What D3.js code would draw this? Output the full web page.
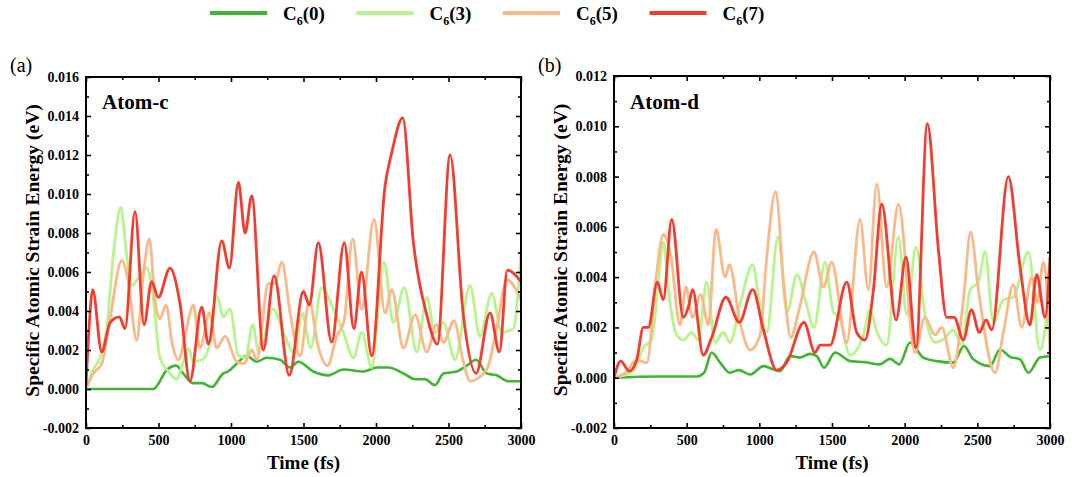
<!DOCTYPE html>
<html>
<head>
<meta charset="utf-8">
<script src="https://cdnjs.cloudflare.com/ajax/libs/d3/7.8.5/d3.min.js"></script>
<style>
  body { margin: 0; background: #fff; }
  text { font-family: "Liberation Serif", "Times New Roman", serif; }
</style>
</head>
<body>
<div id="chart"></div>
<script>
// series names and colours
var seriesNames = ["0", "3", "5", "7"];
var seriesColors = ["#3fb62f", "#b6f48c", "#fbb888", "#f73a2e"];

// time ticks (fs)
var timeMajor = [0, 500, 1000, 1500, 2000, 2500, 3000];
var timeMinor = [250, 750, 1250, 1750, 2250, 2750];

// Atom-c panel, [time fs, energy eV]
var atomC_0 = [[0,0],[464,0],[560,0.001],[621,0.0012],[670,0.0008],[740,0.0003],[800,0.0003],[867,0.0001],[947,0.0008],[980,0.0009],[1039,0.0013],[1108,0.0017],[1177,0.0014],[1246,0.0016],[1338,0.0015],[1407,0.0011],[1464,0.0014],[1568,0.0009],[1671,0.0007],[1775,0.001],[1913,0.0009],[2005,0.0011],[2085,0.0011],[2189,0.0008],[2269,0.0005],[2338,0.0005],[2407,0.0002],[2465,0.0008],[2557,0.0009],[2626,0.0012],[2690,0.0015],[2763,0.0008],[2832,0.0007],[2913,0.0004],[3000,0.0004]];
var atomC_3 = [[0,0],[50,0.001],[96,0.0016],[143,0.0031],[189,0.0069],[239,0.0093],[280,0.0069],[315,0.0053],[361,0.0057],[419,0.0062],[453,0.0053],[510,0.0016],[568,0.0009],[625,0.0005],[671,0.0014],[706,0.0021],[740,0.0014],[800,0.0015],[850,0.0022],[901,0.0048],[947,0.0037],[993,0.0041],[1051,0.0017],[1100,0.0016],[1150,0.0033],[1190,0.0019],[1292,0.0041],[1361,0.0029],[1441,0.0018],[1490,0.0039],[1550,0.0021],[1625,0.0052],[1706,0.0041],[1775,0.0029],[1844,0.0016],[1902,0.0029],[1970,0.0011],[2055,0.0065],[2120,0.0034],[2194,0.0052],[2281,0.0019],[2350,0.0047],[2407,0.0029],[2465,0.0034],[2545,0.0015],[2648,0.0053],[2717,0.0027],[2798,0.0049],[2867,0.0029],[2947,0.0031],[3000,0.0071]];
var atomC_5 = [[0,0],[50,0.0008],[108,0.0013],[166,0.0036],[246,0.0066],[292,0.0055],[349,0.0025],[395,0.0058],[437,0.0077],[475,0.0046],[510,0.0036],[552,0.0043],[595,0.0023],[637,0.0015],[690,0.003],[740,0.0043],[786,0.0021],[851,0.0039],[901,0.0021],[959,0.0027],[1039,0.0014],[1090,0.0013],[1143,0.002],[1177,0.0015],[1258,0.0054],[1300,0.0054],[1350,0.0065],[1410,0.0038],[1476,0.0017],[1540,0.0045],[1600,0.0022],[1665,0.0012],[1729,0.0027],[1780,0.0035],[1839,0.0077],[1901,0.0041],[1986,0.0087],[2062,0.0039],[2108,0.0051],[2189,0.0021],[2269,0.0038],[2350,0.0019],[2418,0.0033],[2465,0.0024],[2538,0.0035],[2602,0.0014],[2648,0.0004],[2763,0.001],[2832,0.0031],[2901,0.0056],[3000,0.0046]];
var atomC_7 = [[0,0.0002],[20,0.003],[46,0.0051],[108,0.0019],[166,0.0034],[230,0.0037],[269,0.0031],[338,0.0091],[400,0.0033],[453,0.0055],[499,0.0047],[579,0.0062],[648,0.0044],[717,0.0004],[798,0.0042],[844,0.0023],[936,0.0076],[989,0.0062],[1051,0.0106],[1097,0.008],[1143,0.0099],[1223,0.002],[1297,0.0058],[1402,0.0007],[1499,0.005],[1540,0.0043],[1602,0.0075],[1694,0.0024],[1781,0.0075],[1847,0.0031],[1900,0.006],[1970,0.0017],[2062,0.0104],[2108,0.0121],[2184,0.0139],[2258,0.0075],[2350,0.0038],[2423,0.0023],[2511,0.012],[2602,0.0038],[2690,0.0008],[2786,0.0039],[2851,0.0019],[2906,0.0061],[3000,0.0055]];

// Atom-d panel, [time fs, energy eV]
var atomD_0 = [[0,0],[300,0.00005],[571,0.00005],[620,0.0002],[672,0.001],[730,0.0006],[798,0.0002],[858,0.0003],[938,0.00013],[1028,0.00046],[1097,0.00033],[1142,0.00026],[1211,0.00086],[1280,0.0008],[1349,0.00095],[1395,0.00086],[1445,0.0004],[1521,0.001],[1624,0.00066],[1727,0.00062],[1830,0.00053],[1899,0.00075],[1963,0.00053],[2037,0.0014],[2128,0.0008],[2220,0.00066],[2335,0.0006],[2408,0.00126],[2472,0.00073],[2587,0.00046],[2656,0.00112],[2725,0.00083],[2794,0.00073],[2851,0.0002],[2931,0.0008],[3000,0.00086]];
var atomD_3 = [[0,0],[70,0.0001],[138,0.0003],[202,0.0012],[259,0.0015],[300,0.0035],[339,0.0054],[380,0.0032],[431,0.0017],[477,0.0015],[534,0.0018],[580,0.0015],[637,0.0038],[695,0.0014],[752,0.0018],[798,0.0014],[870,0.003],[954,0.0045],[1000,0.003],[1051,0.0018],[1128,0.0056],[1190,0.0026],[1259,0.0041],[1320,0.003],[1376,0.002],[1452,0.0046],[1510,0.0026],[1550,0.0024],[1624,0.0009],[1716,0.0017],[1762,0.0027],[1810,0.0018],[1876,0.0013],[1957,0.0056],[2014,0.0025],[2078,0.0052],[2140,0.0025],[2209,0.0014],[2260,0.0015],[2335,0.0019],[2393,0.0013],[2450,0.0035],[2507,0.0038],[2553,0.005],[2610,0.0022],[2679,0.0031],[2748,0.0032],[2851,0.005],[2931,0.0011],[3000,0.0038]];
var atomD_5 = [[0,0],[80,0.0002],[156,0.0007],[225,0.0006],[290,0.004],[339,0.0057],[390,0.0049],[454,0.0021],[495,0.0036],[540,0.0024],[596,0.0033],[649,0.0021],[702,0.0059],[764,0.004],[794,0.0045],[867,0.0022],[936,0.0011],[1005,0.0017],[1051,0.0048],[1112,0.0074],[1170,0.0036],[1216,0.0016],[1273,0.0027],[1376,0.005],[1441,0.0036],[1498,0.0046],[1601,0.0014],[1693,0.0063],[1750,0.0035],[1808,0.0077],[1876,0.0036],[1957,0.0069],[2071,0.001],[2140,0.0024],[2209,0.0017],[2255,0.002],[2335,0.0004],[2404,0.0031],[2454,0.0058],[2507,0.0035],[2622,0.0002],[2679,0.0018],[2748,0.0037],[2805,0.002],[2874,0.004],[2913,0.003],[2954,0.0046],[3000,0.001]];
var atomD_7 = [[0,0],[46,0.00066],[105,0.00026],[156,0.0007],[202,0.002],[236,0.002],[298,0.0038],[339,0.0031],[397,0.0063],[477,0.0024],[511,0.0028],[541,0.0035],[614,0.0009],[672,0.0016],[770,0.0032],[862,0.0022],[954,0.0035],[1028,0.0019],[1119,0.0003],[1188,0.0006],[1307,0.0022],[1383,0.001],[1418,0.0013],[1487,0.0013],[1601,0.0038],[1670,0.0018],[1727,0.0015],[1785,0.0035],[1842,0.0069],[1941,0.0023],[2009,0.0048],[2078,0.0012],[2156,0.0101],[2232,0.0051],[2289,0.0024],[2340,0.0024],[2404,0.0015],[2459,0.0027],[2514,0.0018],[2560,0.0023],[2599,0.0019],[2713,0.008],[2794,0.0044],[2862,0.0021],[2908,0.0041],[2966,0.0024],[3000,0.0048]];

var font = "'Liberation Serif', 'Times New Roman', serif";
var svg = d3.select("#chart").append("svg").attr("width", 1072).attr("height", 477);

// plain hyphen for negatives, like the original
var energyFormat = function (d) { return d3.format(".3f")(d).replace("\u2212", "-"); };

// legend across the top
seriesNames.forEach(function (n, i) {
  var x0 = 210 + i * 146.5;
  svg.append("line")
    .attr("x1", x0).attr("x2", x0 + 57).attr("y1", 13).attr("y2", 13)
    .attr("stroke", seriesColors[i]).attr("stroke-width", 4);
  var t = svg.append("text").attr("x", x0 + 73).attr("y", 20)
    .style("font-size", "19px").style("font-weight", "bold");
  t.append("tspan").text("C");
  t.append("tspan").attr("dy", 5).style("font-size", "12px").text("6");
  t.append("tspan").attr("dy", -5).text("(" + n + ")");
});

function drawPanel(opts) {
  var x = d3.scaleLinear().domain([0, 3000]).range([opts.left, opts.right]);
  var y = d3.scaleLinear().domain([-0.002, opts.yMax]).range([opts.bottom, opts.top]);
  var yMajor = d3.range(-0.002, opts.yMax + 0.0001, 0.002);
  var yMinor = d3.range(-0.001, opts.yMax, 0.002);

  var g = svg.append("g");

  // clip lines to the frame
  g.append("clipPath").attr("id", "clip" + opts.id)
    .append("rect")
    .attr("x", opts.left).attr("y", opts.top)
    .attr("width", opts.right - opts.left).attr("height", opts.bottom - opts.top);

  var line = d3.line()
    .x(function (d) { return x(d[0]); })
    .y(function (d) { return y(d[1]); })
    .curve(d3.curveMonotoneX);

  opts.series.forEach(function (s, i) {
    g.append("path")
      .attr("d", line(s))
      .attr("fill", "none")
      .attr("stroke", seriesColors[i])
      .attr("stroke-width", i === 0 ? 2.6 : 2.8)
      .attr("stroke-linejoin", "round")
      .attr("clip-path", "url(#clip" + opts.id + ")");
  });

  // axes, ticks pointing inward on all four sides
  function styleAxis(sel) {
    sel.attr("font-family", null);
    sel.select(".domain").remove();
    sel.selectAll(".tick line").attr("stroke", "#000").attr("stroke-width", 1.6);
    sel.selectAll("text").style("font-family", font).style("font-size", "14px")
      .style("font-weight", "bold").attr("fill", "#000");
  }
  g.append("g").attr("transform", "translate(0," + opts.bottom + ")")
    .call(d3.axisBottom(x).tickValues(timeMajor).tickSize(-5).tickPadding(7).tickFormat(d3.format("d")))
    .call(styleAxis);
  g.append("g").attr("transform", "translate(0," + opts.bottom + ")")
    .call(d3.axisBottom(x).tickValues(timeMinor).tickSize(-3).tickFormat(""))
    .call(styleAxis);
  g.append("g").attr("transform", "translate(0," + opts.top + ")")
    .call(d3.axisTop(x).tickValues(timeMajor).tickSize(-5).tickFormat(""))
    .call(styleAxis);
  g.append("g").attr("transform", "translate(0," + opts.top + ")")
    .call(d3.axisTop(x).tickValues(timeMinor).tickSize(-3).tickFormat(""))
    .call(styleAxis);
  g.append("g").attr("transform", "translate(" + opts.left + ",0)")
    .call(d3.axisLeft(y).tickValues(yMajor).tickSize(-5).tickPadding(7).tickFormat(energyFormat))
    .call(styleAxis);
  g.append("g").attr("transform", "translate(" + opts.left + ",0)")
    .call(d3.axisLeft(y).tickValues(yMinor).tickSize(-3).tickFormat(""))
    .call(styleAxis);
  g.append("g").attr("transform", "translate(" + opts.right + ",0)")
    .call(d3.axisRight(y).tickValues(yMajor).tickSize(-5).tickFormat(""))
    .call(styleAxis);
  g.append("g").attr("transform", "translate(" + opts.right + ",0)")
    .call(d3.axisRight(y).tickValues(yMinor).tickSize(-3).tickFormat(""))
    .call(styleAxis);

  // frame
  g.append("rect")
    .attr("x", opts.left).attr("y", opts.top)
    .attr("width", opts.right - opts.left).attr("height", opts.bottom - opts.top)
    .attr("fill", "none").attr("stroke", "#000").attr("stroke-width", 2);

  // labels
  g.append("text").attr("x", opts.left - 76).attr("y", 72)
    .style("font-size", "20px").text(opts.tag);
  g.append("text").attr("x", opts.left + 16).attr("y", 109)
    .style("font-size", "21px").style("font-weight", "bold").text(opts.title);
  g.append("text")
    .attr("x", (opts.left + opts.right) / 2).attr("y", 469)
    .attr("text-anchor", "middle")
    .style("font-size", "19px").style("font-weight", "bold").text("Time (fs)");
  g.append("text")
    .attr("transform", "translate(" + (opts.left - 47) + "," + ((opts.top + opts.bottom) / 2 - 2) + ") rotate(-90)")
    .attr("text-anchor", "middle")
    .style("font-size", "19.5px").style("font-weight", "bold")
    .text("Specific Atomic Strain Energy (eV)");
}

drawPanel({ id: "a", left: 86, right: 521, top: 77, bottom: 428, yMax: 0.016,
  tag: "(a)", title: "Atom-c", series: [atomC_0, atomC_3, atomC_5, atomC_7] });
drawPanel({ id: "b", left: 614, right: 1050, top: 76, bottom: 428, yMax: 0.012,
  tag: "(b)", title: "Atom-d", series: [atomD_0, atomD_3, atomD_5, atomD_7] });
</script>
</body>
</html>
